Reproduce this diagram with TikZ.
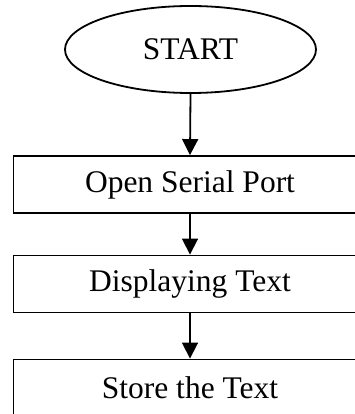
\documentclass[tikz,border=0pt]{standalone}
\usepackage{fontspec}
\setmainfont{Liberation Serif}
\usetikzlibrary{shapes.geometric,arrows.meta}
\begin{document}
\begin{tikzpicture}[x=1pt,y=-1pt,
  every node/.style={font=\fontsize{31.5}{36}\selectfont, inner sep=0pt},
  terminal/.style={draw, ellipse, line width=1.8pt, minimum width=251pt, minimum height=87pt},
  procbox/.style={draw, rectangle, line width=1.9pt, minimum width=353pt, minimum height=57pt},
  flow/.style={line width=1.8pt, -{Triangle[length=16pt,width=16pt]}}]
  \useasboundingbox (0,0) rectangle (355,414);
  \clip (0,0) rectangle (355,414);
  \node[terminal] (start) at (190.5,49.5) {START};
  \node[procbox] (open) at (190,184.5) {Open Serial Port};
  \node[procbox] (disp) at (190,284) {Displaying Text};
  \node[procbox] (store) at (190,388) {Store the Text};
  \draw[flow] (start.south) -- (open.north);
  \draw[flow] (open.south) -- (disp.north);
  \draw[flow] (disp.south) -- (store.north);
\end{tikzpicture}
\end{document}
